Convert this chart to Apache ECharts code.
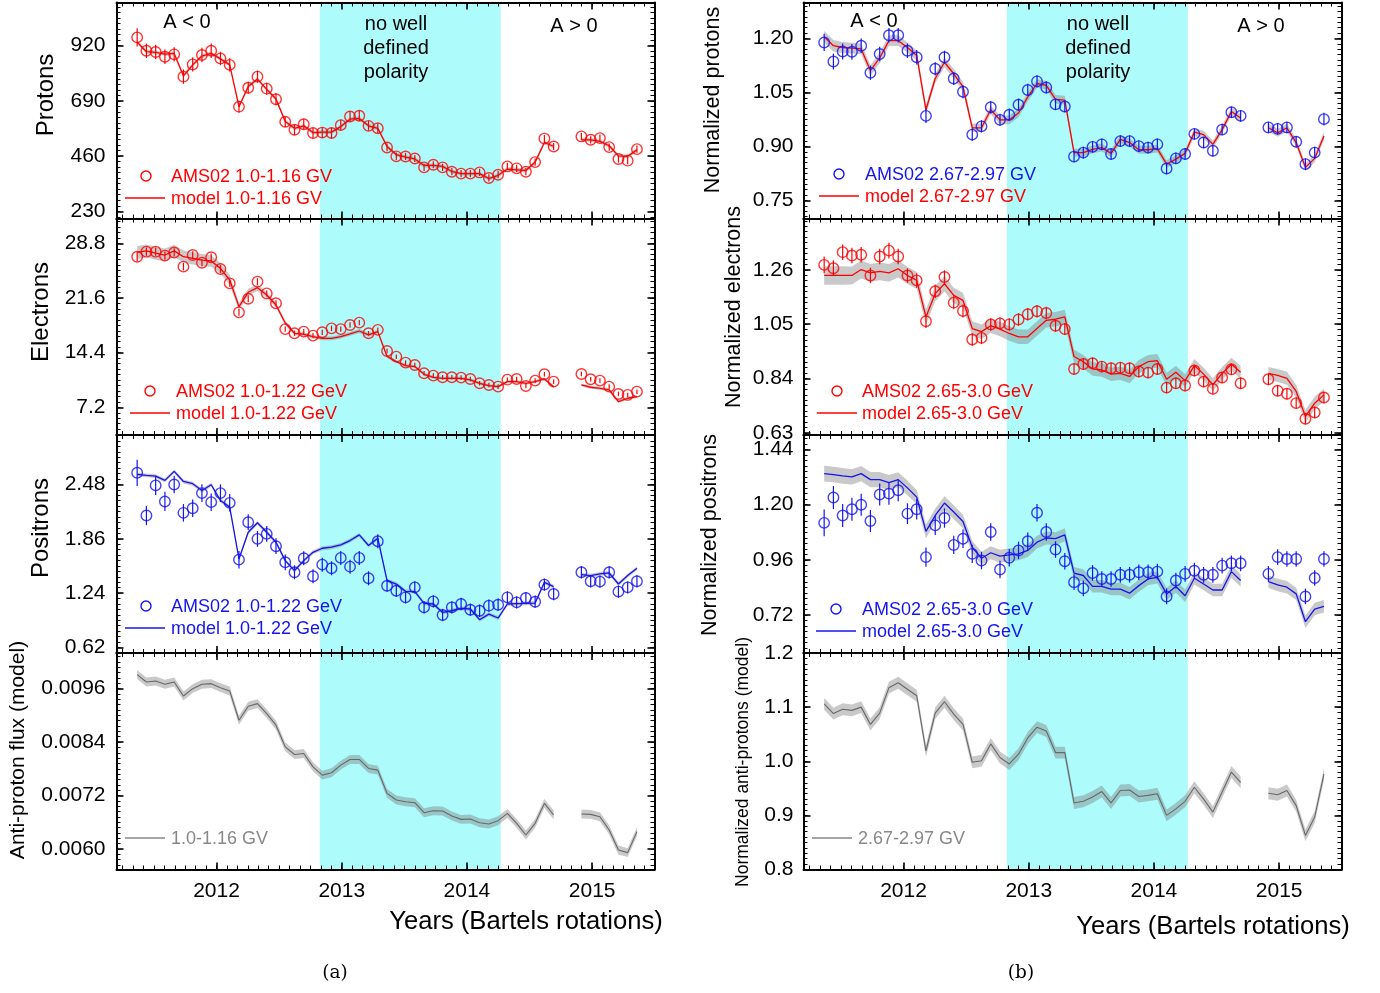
<!DOCTYPE html>
<html><head><meta charset="utf-8">
<script src="https://cdn.jsdelivr.net/npm/echarts@6/dist/echarts.min.js"></script>
<style>html,body{margin:0;padding:0;background:#fff}#c{width:1380px;height:993px}</style>
</head><body><div id="c"></div>
<script>
// ---------------- DATA ----------------
// Bartels rotation numbers (2472, 2473 have no data -> null entries)
const bartels = [2426,2427,2428,2429,2430,2431,2432,2433,2434,2435,2436,2437,2438,2439,2440,2441,2442,2443,2444,2445,
  2446,2447,2448,2449,2450,2451,2452,2453,2454,2455,2456,2457,2458,2459,2460,2461,2462,2463,2464,2465,
  2466,2467,2468,2469,2470,2471,2472,2473,2474,2475,2476,2477,2478,2479,2480];
const BR_START_YEAR = 2011.366;      // start of rotation 2426 (mid-May 2011)
const BR_DAYS = 27;
const noPolarity = [2012.825, 2014.27];
const yearTicks = [2012, 2013, 2014, 2015];

// (a) left column
const protonsData = [954.6,899,894,874,884,791,842,881,899,867, 840,666,745,791,741,697,603,569.5,593,556,
  558,556,589,625,628,586,576,496,459,458.6, 450,413,424,413,395,387,387,392,369,382.5,
  417,409,395,435,533,500,null,null,542,528,535,497.5,448,441,489];
const protonsErr = [38,30,30,30,30,30,30,30,30,28, 28,25,25,25,25,25,22,22,22,22, 22,22,22,22,22,20,20,16,16,15,
  15,15,15,15,15,15,15,15,15,15, 15,15,15,15,15,15,null,null,15,15,15,15,15,15,15];
const protonsModel = [935,895,892,885,888,794,840,877,888,865, 840,666,750,781,738,698,604,576,586,558,
  560,560,583,614,617,586,576,500,466,456, 448,421,421,417,396,387,387,387,366,380,
  406,403,400,435,517,500,null,null,528,528,521,503,461,459,486];
const protonsBand = [8,8,8,8,8,8,8,8,8,8, 8,8,8,8,8,8,8,8,8,8, 8,8,8,8,8,8,8,8,8,8, 8,8,8,8,8,8,8,8,8,8, 8,8,8,8,8,8,null,null,8,8,8,8,8,8,8];
const protonTicks = [230, 460, 690, 920];
const protonLabels = ['230', '460', '690', '920'];

const electronsData = [27.04,27.7,27.7,27.18,27.6,25.73,27.26,26.25,26.96,25.42, 23.53,19.71,21.5,23.75,22.2,20.9,17.5,16.95,17.17,16.64,
  17.08,17.6,17.5,18.04,18.35,16.95,17.4,14.62,13.87,13.08, 12.78,11.68,11.37,11.15,11.15,11.11,10.93,10.36,10.14,9.92,
  10.84,10.93,10.01,10.71,11.55,10.58,null,null,11.59,10.89,10.71,9.92,8.96,8.83,9.26];
const electronsErr = [0.6,0.55,0.55,0.55,0.55,0.5,0.5,0.5,0.5,0.5, 0.45,0.45,0.45,0.45,0.4,0.4,0.35,0.35,0.35,0.35,
  0.35,0.35,0.35,0.35,0.35,0.3,0.3,0.3,0.3,0.3, 0.3,0.3,0.3,0.3,0.3,0.3,0.3,0.3,0.3,0.3, 0.3,0.3,0.3,0.3,0.3,0.3,null,null,0.3,0.3,0.3,0.3,0.3,0.3,0.3];
const electronsModel = [27.6,27.8,27.5,27.26,27.8,27.04,26.82,26.6,26.47,25.5, 23.97,20.46,22.35,22.96,22.0,20.68,18.3,16.95,16.82,16.51,
  16.29,16.29,16.51,16.86,17.25,16.73,17.17,13.9,13.22,12.69, 12.56,11.55,11.15,11.02,11.02,11.02,10.8,10.36,10.05,9.92,
  10.58,10.58,10.36,10.58,10.93,9.92,null,null,10.14,9.84,9.7,9.48,7.95,8.39,8.61];
const electronsBand = [0.85,0.85,0.85,0.85,0.8,0.8,0.8,0.8,0.75,0.7, 0.65,0.5,0.45,0.45,0.4,0.35,0.3,0.25,0.25,0.25,
  0.25,0.25,0.25,0.25,0.25,0.25,0.25,0.22,0.2,0.2, 0.2,0.2,0.2,0.2,0.2,0.2,0.2,0.2,0.2,0.2, 0.2,0.2,0.2,0.2,0.2,0.2,null,null,0.2,0.2,0.2,0.2,0.2,0.2,0.2];
const electronTicks = [7.2, 14.4, 21.6, 28.8];
const electronLabels = ['7.2', '14.4', '21.6', '28.8'];

const positronsData = [2.613,2.126,2.469,2.286,2.48,2.156,2.209,2.381,2.278,2.381, 2.27,1.622,2.049,1.859,1.916,1.775,1.592,1.478,1.638,1.432,
  1.565,1.523,1.642,1.542,1.642,1.409,1.832,1.325,1.268,1.192, 1.306,1.078,1.146,0.99,1.078,1.116,1.051,1.039,1.097,1.108,
  1.192,1.135,1.184,1.142,1.337,1.23,null,null,1.478,1.375,1.371,1.478,1.257,1.306,1.375];
const positronsErr = [0.15,0.11,0.11,0.11,0.1,0.1,0.1,0.1,0.1,0.1, 0.1,0.1,0.09,0.09,0.09,0.09,0.09,0.08,0.08,0.08,
  0.08,0.08,0.08,0.08,0.08,0.08,0.08,0.07,0.07,0.07, 0.07,0.07,0.07,0.07,0.07,0.07,0.07,0.07,0.07,0.07, 0.07,0.07,0.07,0.07,0.07,0.07,null,null,0.07,0.07,0.07,0.07,0.07,0.07,0.07];
const positronsModel = [2.594,2.583,2.575,2.526,2.629,2.514,2.488,2.411,2.476,2.297, 2.221,1.63,1.935,2.042,1.935,1.821,1.611,1.497,1.611,1.706,
  1.752,1.764,1.79,1.84,1.904,1.783,1.866,1.382,1.344,1.26, 1.257,1.123,1.116,1.02,1.039,1.066,1.059,0.937,1.001,0.956,
  1.116,1.12,1.123,1.127,1.363,1.314,null,null,1.451,1.44,1.459,1.47,1.344,1.44,1.523];
const positronsBand = [0.022,0.022,0.022,0.022,0.022,0.022,0.022,0.022,0.022,0.022, 0.022,0.022,0.022,0.022,0.022,0.022,0.022,0.022,0.022,0.022,
  0.022,0.022,0.022,0.022,0.022,0.022,0.022,0.022,0.022,0.022, 0.022,0.022,0.022,0.022,0.022,0.022,0.022,0.022,0.022,0.022, 0.022,0.022,0.022,0.022,0.022,0.022,null,null,0.022,0.022,0.022,0.022,0.022,0.022,0.022];
const positronTicks = [0.62, 1.24, 1.86, 2.48];
const positronLabels = ['0.62', '1.24', '1.86', '2.48'];

const pbarModel = [0.009914,0.009749,0.009772,0.009697,0.009749,0.009436,0.0096,0.009697,0.009712,0.009622,
  0.009548,0.008891,0.009204,0.009264,0.00904,0.008779,0.008293,0.008122,0.008144,0.007845,
  0.007659,0.007711,0.007883,0.00801,0.00801,0.007808,0.007771,0.007248,0.007099,0.007061,
  0.007039,0.006815,0.00686,0.006852,0.00674,0.006665,0.006673,0.006591,0.006561,0.006636,
  0.0068,0.006576,0.006315,0.006576,0.007024,0.006763,null,null,0.006785,0.006778,0.006725,0.006427,0.005979,0.005919,0.00639];
const pbarBand = [0.0001,0.0001,0.0001,0.0001,0.0001,0.0001,0.0001,0.0001,0.0001,0.0001,
  0.0001,0.0001,0.0001,0.0001,0.0001,0.0001,0.0001,0.0001,0.0001,0.0001,
  0.0001,0.0001,0.0001,0.0001,0.0001,0.0001,0.0001,0.0001,0.0001,0.0001,
  0.0001,0.0001,0.0001,0.0001,0.0001,0.0001,0.0001,0.0001,0.0001,0.0001,
  0.0001,0.0001,0.0001,0.0001,0.0001,0.0001,null,null,0.0001,0.0001,0.0001,0.0001,0.0001,0.0001,0.0001];
const pbarTicks = [0.0060, 0.0072, 0.0084, 0.0096];
const pbarLabels = ['0.0060', '0.0072', '0.0084', '0.0096'];

// (b) right column (normalized)
const nProtonsData = [1.189,1.136,1.164,1.163,1.18,1.105,1.157,1.209,1.209,1.166, 1.148,0.985,1.116,1.148,1.089,1.052,0.933,0.956,1.009,0.974,
  0.988,1.016,1.057,1.081,1.064,1.017,1.011,0.872,0.883,0.899, 0.906,0.879,0.915,0.915,0.901,0.897,0.906,0.839,0.867,0.879,
  0.935,0.911,0.888,0.947,0.995,0.985,null,null,0.953,0.949,0.953,0.913,0.851,0.883,0.976];
const nProtonsErr = [0.024,0.022,0.022,0.022,0.02,0.02,0.02,0.02,0.02,0.02, 0.02,0.02,0.018,0.018,0.018,0.018,0.018,0.017,0.017,0.017,
  0.017,0.017,0.017,0.017,0.017,0.016,0.016,0.016,0.016,0.016, 0.016,0.016,0.016,0.016,0.016,0.016,0.016,0.016,0.016,0.016,
  0.016,0.016,0.016,0.016,0.016,0.016,null,null,0.016,0.016,0.016,0.016,0.016,0.016,0.018];
const nProtonsModel = [1.205,1.18,1.175,1.173,1.171,1.111,1.146,1.194,1.194,1.175, 1.153,1.002,1.089,1.134,1.102,1.066,0.952,0.952,1.002,0.974,
  0.974,0.993,1.038,1.075,1.07,1.031,1.029,0.883,0.883,0.892, 0.897,0.881,0.92,0.911,0.891,0.891,0.894,0.851,0.865,0.881,
  0.94,0.933,0.906,0.947,0.997,0.979,null,null,0.952,0.938,0.952,0.911,0.842,0.867,0.929];
const nProtonsBand = [0.016,0.016,0.015,0.015,0.015,0.015,0.015,0.015,0.015,0.014, 0.014,0.013,0.013,0.013,0.013,0.013,0.012,0.012,0.012,0.012,
  0.012,0.012,0.012,0.012,0.012,0.012,0.012,0.011,0.011,0.011, 0.011,0.011,0.011,0.011,0.011,0.011,0.011,0.011,0.011,0.011,
  0.011,0.011,0.011,0.011,0.011,0.011,null,null,0.011,0.011,0.011,0.011,0.011,0.011,0.011];
const nProtonTicks = [0.75, 0.90, 1.05, 1.20];
const nProtonLabels = ['0.75', '0.90', '1.05', '1.20'];

const nElectronsData = [1.279,1.266,1.328,1.315,1.318,1.238,1.311,1.334,1.311,1.238, 1.219,1.061,1.177,1.232,1.133,1.101,0.991,0.997,1.049,1.053,
  1.049,1.068,1.088,1.1,1.093,1.044,1.031,0.877,0.896,0.899, 0.886,0.88,0.882,0.88,0.867,0.863,0.877,0.805,0.822,0.813,
  0.871,0.828,0.8,0.844,0.876,0.822,null,null,0.837,0.793,0.781,0.745,0.685,0.709,0.767];
const nElectronsErr = [0.032,0.03,0.03,0.03,0.03,0.03,0.03,0.03,0.03,0.028, 0.028,0.026,0.026,0.026,0.025,0.025,0.024,0.024,0.024,0.024,
  0.024,0.024,0.024,0.024,0.024,0.023,0.023,0.022,0.022,0.022, 0.022,0.022,0.022,0.022,0.022,0.022,0.022,0.022,0.022,0.022,
  0.022,0.022,0.022,0.022,0.022,0.022,null,null,0.022,0.022,0.022,0.022,0.022,0.022,0.022];
const nElectronsModel = [1.238,1.238,1.238,1.238,1.261,1.248,1.254,1.248,1.264,1.238, 1.219,1.078,1.168,1.206,1.161,1.142,1.033,1.021,1.044,1.031,
  1.014,1.001,1.001,1.033,1.065,1.069,1.078,0.925,0.905,0.877, 0.873,0.857,0.86,0.848,0.886,0.905,0.909,0.837,0.864,0.832,
  0.89,0.857,0.816,0.86,0.895,0.864,null,null,0.86,0.852,0.841,0.79,0.694,0.745,0.777];
const nElectronsBand = [0.036,0.036,0.036,0.035,0.035,0.034,0.034,0.034,0.034,0.033, 0.032,0.03,0.03,0.03,0.03,0.029,0.028,0.028,0.028,0.028,
  0.028,0.028,0.028,0.028,0.028,0.028,0.028,0.026,0.026,0.026, 0.026,0.026,0.026,0.026,0.026,0.026,0.026,0.025,0.025,0.025,
  0.025,0.025,0.025,0.025,0.025,0.025,null,null,0.025,0.025,0.025,0.025,0.025,0.025,0.025];
const nElectronTicks = [0.63, 0.84, 1.05, 1.26];
const nElectronLabels = ['0.63', '0.84', '1.05', '1.26'];

const nPositronsData = [1.121,1.231,1.153,1.18,1.2,1.129,1.244,1.248,1.263,1.161, 1.18,0.972,1.11,1.142,1.025,1.052,0.986,0.957,1.081,0.918,
  0.969,1.001,1.041,1.165,1.081,1.005,0.954,0.863,0.836,0.903, 0.877,0.877,0.895,0.895,0.906,0.906,0.909,0.801,0.87,0.899,
  0.913,0.895,0.895,0.935,0.945,0.945,null,null,0.899,0.972,0.964,0.964,0.801,0.881,0.964];
const nPositronsErr = [0.058,0.05,0.05,0.05,0.048,0.048,0.048,0.048,0.048,0.045, 0.045,0.042,0.042,0.042,0.04,0.04,0.04,0.038,0.038,0.038,
  0.038,0.038,0.038,0.038,0.038,0.036,0.036,0.034,0.034,0.034, 0.034,0.034,0.034,0.034,0.034,0.034,0.034,0.034,0.034,0.034,
  0.034,0.034,0.034,0.034,0.034,0.034,null,null,0.034,0.034,0.034,0.034,0.034,0.034,0.034];
const nPositronsModel = [1.335,1.331,1.325,1.321,1.335,1.309,1.309,1.296,1.309,1.273, 1.233,1.084,1.153,1.207,1.168,1.127,1.015,0.967,0.991,0.976,
  0.982,0.986,1.001,1.037,1.055,1.052,1.069,0.902,0.892,0.845, 0.845,0.833,0.833,0.815,0.848,0.877,0.884,0.812,0.844,0.804,
  0.88,0.855,0.829,0.829,0.909,0.87,null,null,0.865,0.851,0.841,0.812,0.691,0.746,0.758];
const nPositronsBand = [0.034,0.034,0.034,0.033,0.033,0.033,0.033,0.033,0.032,0.032, 0.031,0.03,0.03,0.03,0.03,0.029,0.028,0.028,0.028,0.028,
  0.028,0.028,0.028,0.028,0.028,0.028,0.028,0.027,0.027,0.027, 0.027,0.027,0.027,0.027,0.027,0.027,0.027,0.027,0.027,0.027,
  0.027,0.027,0.027,0.027,0.027,0.027,null,null,0.027,0.027,0.027,0.027,0.027,0.027,0.027];
const nPositronTicks = [0.72, 0.96, 1.20, 1.44];
const nPositronLabels = ['0.72', '0.96', '1.20', '1.44'];

const nPbarModel = [1.106,1.088,1.096,1.094,1.1,1.068,1.089,1.136,1.145,1.133, 1.121,1.019,1.089,1.11,1.087,1.068,0.998,1.001,1.032,1.007,
  0.995,1.013,1.043,1.063,1.056,1.016,1.016,0.923,0.926,0.934, 0.944,0.923,0.946,0.947,0.935,0.937,0.94,0.9,0.912,0.926,
  0.952,0.93,0.906,0.943,0.98,0.961,null,null,0.941,0.938,0.946,0.918,0.863,0.897,0.976];
const nPbarBand = [0.011,0.011,0.011,0.011,0.011,0.011,0.011,0.011,0.011,0.011, 0.011,0.011,0.011,0.011,0.011,0.011,0.011,0.011,0.011,0.011,
  0.011,0.011,0.011,0.011,0.011,0.011,0.011,0.011,0.011,0.011, 0.011,0.011,0.011,0.011,0.011,0.011,0.011,0.011,0.011,0.011,
  0.011,0.011,0.011,0.011,0.011,0.011,null,null,0.011,0.011,0.011,0.011,0.011,0.011,0.011];
const nPbarTicks = [0.8, 0.9, 1.0, 1.1, 1.2];
const nPbarLabels = ['0.8', '0.9', '1.0', '1.1', '1.2'];

// ---------------- STYLE / LAYOUT ----------------
const FONT = "'Liberation Sans', Arial, sans-serif";
const RED = '#ff0000', BLUE = '#1414f0', GREY_LINE = '#686868', CYAN = '#adfbfb';
const BAND = 'rgba(120,120,120,0.40)';
const X_MIN = 2011.201, X_MAX = 2015.498;
const COL_LEFT = [116.5, 803.5], COL_W = 538;
const ROW_TOP = [2.5, 218.5, 435, 653], ROW_H = [216, 216.5, 218, 216.5];

const years = bartels.map(b => BR_START_YEAR + (b - 2426) * BR_DAYS / 365.25);

const panels = [
  {col:0,row:0,min:200,max:1100,ticks:protonTicks,labels:protonLabels,data:protonsData,err:protonsErr,model:protonsModel,band:protonsBand,mark:RED,line:RED,lw:1.3},
  {col:0,row:1,min:3.55,max:32.07,ticks:electronTicks,labels:electronLabels,data:electronsData,err:electronsErr,model:electronsModel,band:electronsBand,mark:RED,line:RED,lw:1.3},
  {col:0,row:2,min:0.557,max:3.044,ticks:positronTicks,labels:positronLabels,data:positronsData,err:positronsErr,model:positronsModel,band:positronsBand,mark:BLUE,line:BLUE,lw:1.3},
  {col:0,row:3,min:0.00554,max:0.0104,ticks:pbarTicks,labels:pbarLabels,data:null,err:null,model:pbarModel,band:pbarBand,mark:null,line:GREY_LINE,lw:1.1},
  {col:1,row:0,min:0.70,max:1.30,ticks:nProtonTicks,labels:nProtonLabels,data:nProtonsData,err:nProtonsErr,model:nProtonsModel,band:nProtonsBand,mark:BLUE,line:RED,lw:1.3},
  {col:1,row:1,min:0.622,max:1.458,ticks:nElectronTicks,labels:nElectronLabels,data:nElectronsData,err:nElectronsErr,model:nElectronsModel,band:nElectronsBand,mark:RED,line:RED,lw:1.3},
  {col:1,row:2,min:0.555,max:1.503,ticks:nPositronTicks,labels:nPositronLabels,data:nPositronsData,err:nPositronsErr,model:nPositronsModel,band:nPositronsBand,mark:BLUE,line:BLUE,lw:1.3},
  {col:1,row:3,min:0.8,max:1.2,ticks:nPbarTicks,labels:nPbarLabels,data:null,err:null,model:nPbarModel,band:nPbarBand,mark:null,line:GREY_LINE,lw:1.1}
];

function minorValues(ticks, min, max, n) {
  const step = (ticks[1] - ticks[0]) / n, out = [];
  const k0 = Math.ceil((min - ticks[0]) / step - 1e-9), k1 = Math.floor((max - ticks[0]) / step + 1e-9);
  for (let k = k0; k <= k1; k++) out.push(ticks[0] + k * step);
  return out;
}
const monthTicks = [];
for (let y = 2011; y <= 2015; y++) for (let m = 0; m < 12; m++) { const v = y + m / 12; if (v > X_MIN && v < X_MAX) monthTicks.push(v); }

const grids = [], xAxes = [], yAxes = [], series = [];
const tickMajor = {color:'#000', width:1.6}, tickMinor = {color:'#000', width:1};

panels.forEach((p, k) => {
  grids.push({left: COL_LEFT[p.col], top: ROW_TOP[p.row], width: COL_W, height: ROW_H[p.row], show:false});
  const bottomRow = p.row === 3;
  const xc = {type:'value', gridIndex:k, min:X_MIN, max:X_MAX, z:10, splitLine:{show:false}};
  xAxes.push(
    {...xc, position:'bottom', axisLine:{show:true,onZero:false,lineStyle:{color:'#000',width:2}},
      axisTick:{show:true,inside:true,length:7,customValues:yearTicks,lineStyle:tickMajor},
      axisLabel:{show:bottomRow,customValues:yearTicks,margin:11,color:'#000',fontSize:21,fontFamily:FONT,formatter:v=>String(Math.round(v))}},
    {...xc, position:'bottom', axisLine:{show:false,onZero:false},
      axisTick:{show:true,inside:true,length:4,customValues:monthTicks,lineStyle:tickMinor}, axisLabel:{show:false}},
    {...xc, position:'top', axisLine:{show:true,onZero:false,lineStyle:{color:'#000',width:2}},
      axisTick:{show:true,inside:true,length:7,customValues:yearTicks,lineStyle:tickMajor}, axisLabel:{show:false}},
    {...xc, position:'top', axisLine:{show:false,onZero:false},
      axisTick:{show:true,inside:true,length:4,customValues:monthTicks,lineStyle:tickMinor}, axisLabel:{show:false}}
  );
  const minors = minorValues(p.ticks, p.min, p.max, 10);
  const yc = {type:'value', gridIndex:k, min:p.min, max:p.max, z:10, splitLine:{show:false}};
  const lab = v => { let best = 0; p.ticks.forEach((t, i) => { if (Math.abs(t - v) < Math.abs(p.ticks[best] - v)) best = i; }); return p.labels[best]; };
  yAxes.push(
    {...yc, position:'left', axisLine:{show:true,onZero:false,lineStyle:{color:'#000',width:2}},
      axisTick:{show:true,inside:true,length:7,customValues:p.ticks,lineStyle:tickMajor},
      axisLabel:{show:true,customValues:p.ticks,margin:p.col===0?11:10,color:'#000',fontSize:21,fontFamily:FONT,formatter:lab}},
    {...yc, position:'left', axisLine:{show:false,onZero:false},
      axisTick:{show:true,inside:true,length:4,customValues:minors,lineStyle:tickMinor}, axisLabel:{show:false}},
    {...yc, position:'right', axisLine:{show:true,onZero:false,lineStyle:{color:'#000',width:2}},
      axisTick:{show:true,inside:true,length:7,customValues:p.ticks,lineStyle:tickMajor}, axisLabel:{show:false}},
    {...yc, position:'right', axisLine:{show:false,onZero:false},
      axisTick:{show:true,inside:true,length:4,customValues:minors,lineStyle:tickMinor}, axisLabel:{show:false}}
  );
  const ax = {xAxisIndex:4*k, yAxisIndex:4*k};
  // cyan "no well defined polarity" period
  series.push({type:'custom', ...ax, z:1, silent:true, data:[[noPolarity[0], p.min]],
    renderItem:(params, api) => {
      const a = api.coord([noPolarity[0], p.max]), b = api.coord([noPolarity[1], p.min]);
      return {type:'rect', shape:{x:a[0], y:a[1], width:b[0]-a[0], height:b[1]-a[1]}, style:{fill:CYAN}};
    }});
  // model uncertainty band
  series.push({type:'custom', ...ax, z:2, silent:true, data:[[years[0], p.model[0]]],
    renderItem:(params, api) => {
      const segs = []; let cur = [];
      p.model.forEach((v, i) => { if (v == null) { if (cur.length) segs.push(cur); cur = []; } else cur.push(i); });
      if (cur.length) segs.push(cur);
      return {type:'group', children: segs.map(seg => {
        const up = seg.map(i => api.coord([years[i], p.model[i] + p.band[i]]));
        const lo = seg.slice().reverse().map(i => api.coord([years[i], p.model[i] - p.band[i]]));
        return {type:'polygon', shape:{points: up.concat(lo)}, style:{fill:BAND}};
      })};
    }});
  // model line
  series.push({type:'line', ...ax, z:3, silent:true, showSymbol:false, connectNulls:false, animation:false,
    data: years.map((x, i) => [x, p.model[i]]), lineStyle:{color:p.line, width:p.lw}});
  if (p.data) {
    const pts = []; years.forEach((x, i) => { if (p.data[i] != null) pts.push([x, p.data[i], p.err[i]]); });
    series.push({type:'custom', ...ax, z:4, silent:true, data:pts, encode:{x:0, y:1},
      renderItem:(params, api) => {
        const x = api.value(0), y = api.value(1), e = api.value(2);
        const a = api.coord([x, y + e]), b = api.coord([x, y - e]);
        return {type:'line', shape:{x1:a[0], y1:a[1], x2:b[0], y2:b[1]}, style:{stroke:p.mark, lineWidth:1.2}};
      }});
    series.push({type:'scatter', ...ax, z:5, silent:true, symbol:'circle', symbolSize:10.5,
      data: pts.map(q => [q[0], q[1]]),
      itemStyle:{color:'rgba(0,0,0,0)', borderColor:p.mark, borderWidth:1.4}});
  }
});

// ---------------- TEXT / LEGENDS ----------------
const graphic = [];
function txt(text, x, y, o = {}) {
  graphic.push({type:'text', x, y, rotation:o.rot || 0, z:20, silent:true,
    style:{text, fill:o.color || '#000', font:`${o.size || 20}px ${o.family || FONT}`,
      textAlign:o.align || 'left', textVerticalAlign:'middle', align:o.align || 'left', verticalAlign:'middle'}});
}
function legCircle(x, y, color) {
  graphic.push({type:'circle', shape:{cx:x, cy:y, r:5}, z:20, silent:true, style:{fill:'none', stroke:color, lineWidth:1.4}});
}
function legLine(x1, x2, y, color) {
  graphic.push({type:'line', shape:{x1, y1:y, x2, y2:y}, z:20, silent:true, style:{stroke:color, lineWidth:1.3}});
}
// polarity annotations
txt('A < 0', 187, 22, {align:'center'});
txt('no well', 396, 24, {align:'center'});
txt('defined', 396, 48, {align:'center'});
txt('polarity', 396, 72, {align:'center'});
txt('A > 0', 574, 26, {align:'center'});
txt('A < 0', 874, 21, {align:'center'});
txt('no well', 1098, 24, {align:'center'});
txt('defined', 1098, 48, {align:'center'});
txt('polarity', 1098, 72, {align:'center'});
txt('A > 0', 1261, 26, {align:'center'});
// legends (a)
legCircle(146, 176, RED); txt('AMS02 1.0-1.16 GV', 171, 177, {color:RED, size:18});
legLine(125, 165, 198, RED); txt('model 1.0-1.16 GV', 171, 199, {color:RED, size:18});
legCircle(150, 391, RED); txt('AMS02 1.0-1.22 GeV', 176, 392, {color:RED, size:18});
legLine(130, 170, 413, RED); txt('model 1.0-1.22 GeV', 176, 414, {color:RED, size:18});
legCircle(146, 606, BLUE); txt('AMS02 1.0-1.22 GeV', 171, 607, {color:BLUE, size:18});
legLine(125, 165, 628, BLUE); txt('model 1.0-1.22 GeV', 171, 629, {color:BLUE, size:18});
legLine(125, 165, 838, '#888'); txt('1.0-1.16 GV', 171, 839, {color:'#888', size:18});
// legends (b)
legCircle(839, 174, BLUE); txt('AMS02 2.67-2.97 GV', 865, 175, {color:BLUE, size:18});
legLine(819, 859, 196, RED); txt('model 2.67-2.97 GV', 865, 197, {color:RED, size:18});
legCircle(837, 391, RED); txt('AMS02 2.65-3.0 GeV', 862, 392, {color:RED, size:18});
legLine(817, 857, 413, RED); txt('model 2.65-3.0 GeV', 862, 414, {color:RED, size:18});
legCircle(836, 609, BLUE); txt('AMS02 2.65-3.0 GeV', 862, 610, {color:BLUE, size:18});
legLine(816, 856, 631, BLUE); txt('model 2.65-3.0 GeV', 862, 632, {color:BLUE, size:18});
legLine(812, 852, 838, '#888'); txt('2.67-2.97 GV', 858, 839, {color:'#888', size:18});
// axis titles
const R90 = Math.PI / 2;
txt('Protons', 46, 95, {rot:R90, align:'center', size:24});
txt('Electrons', 41, 312, {rot:R90, align:'center', size:24});
txt('Positrons', 41, 528, {rot:R90, align:'center', size:24});
txt('Anti-proton flux (model)', 18, 750, {rot:R90, align:'center', size:21});
txt('Normalized protons', 713, 100, {rot:R90, align:'center', size:21.5});
txt('Normalized electrons', 734, 307, {rot:R90, align:'center', size:21.5});
txt('Normalized positrons', 710, 535, {rot:R90, align:'center', size:21.5});
txt('Normalized anti-protons (model)', 743, 762, {rot:R90, align:'center', size:17.5});
txt('Years (Bartels rotations)', 526, 922, {align:'center', size:25.6});
txt('Years (Bartels rotations)', 1213, 927, {align:'center', size:25.6});
txt('(a)', 335, 973, {align:'center', size:18.5, family:"'DejaVu Serif', serif"});
txt('(b)', 1021, 973, {align:'center', size:18.5, family:"'DejaVu Serif', serif"});

const chart = echarts.init(document.getElementById('c'), null, {renderer:'canvas'});
chart.setOption({
  backgroundColor:'#fff', animation:false,
  grid: grids, xAxis: xAxes, yAxis: yAxes, series, graphic
});
</script>
</body></html>
